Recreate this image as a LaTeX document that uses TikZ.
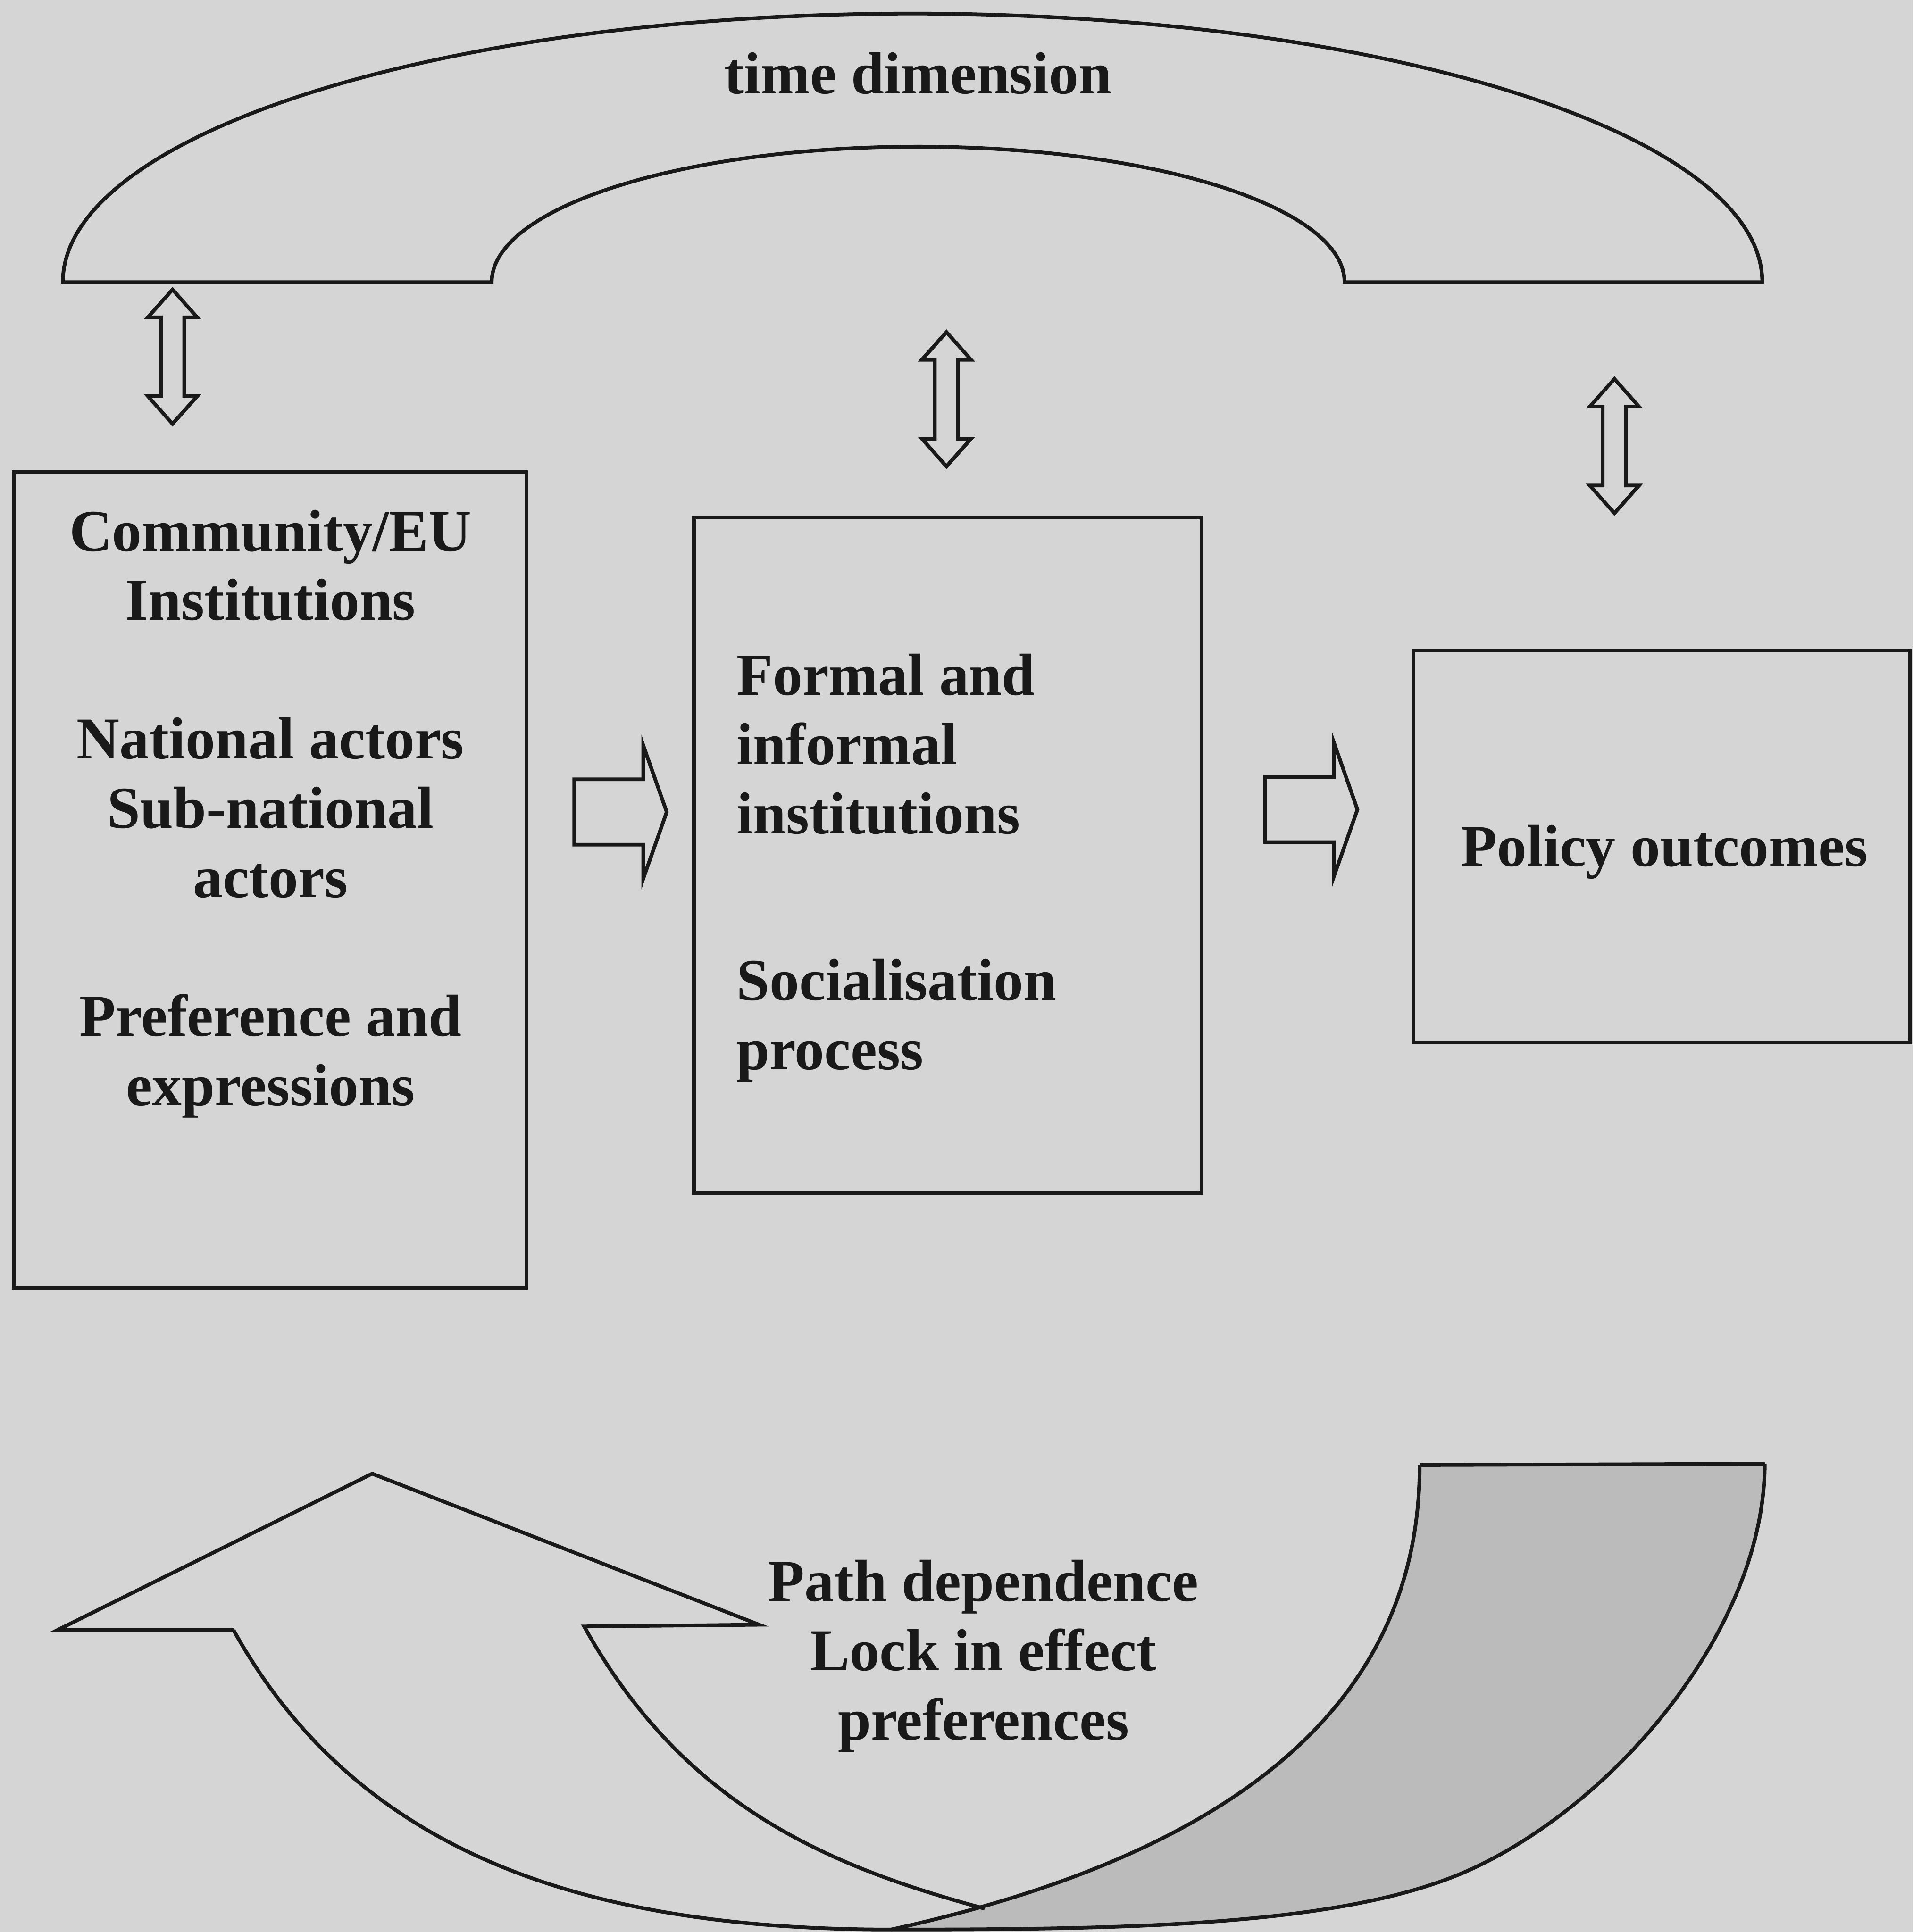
\documentclass[tikz,border=0pt]{standalone}
\usepackage{fontspec}
\setmainfont{Liberation Serif}
\definecolor{bg}{RGB}{213,213,213}
\definecolor{band}{RGB}{187,187,187}
\definecolor{ink}{RGB}{25,25,25}
\begin{document}
\begin{tikzpicture}[x=0.1mm,y=-0.1mm,
  outline/.style={draw=ink,line width=0.85pt,line join=miter},
  box/.style={outline,rectangle,inner sep=0pt},
  lbl/.style={font=\fontsize{13.7}{16}\selectfont\bfseries,text=ink,inner sep=0pt},
  dblarrow/.pic={\draw[outline] (0,-54.5) -- (20,-32) -- (9.5,-32) -- (9.5,32) -- (20,32) -- (0,54.5) -- (-20,32) -- (-9.5,32) -- (-9.5,-32) -- (-20,-32) -- cycle;},
  rarrow/.pic={\draw[outline] (0,-26.5) -- (56,-26.5) -- (56,-54) -- (75,0) -- (56,54) -- (56,26.5) -- (0,26.5) -- cycle;}
]
\fill[bg] (0,0) rectangle (1552,1568);
\useasboundingbox (0,0) rectangle (1552,1568);

% time dimension arch
\draw[outline] (51,229) arc[start angle=180,end angle=360,x radius=689.5,y radius=218]
  -- (1091,229) arc[start angle=0,end angle=-180,x radius=346,y radius=110] -- cycle;
\node[lbl,anchor=base] (timelbl) at (745,76) {time dimension};

% double arrows
\pic at (140,289.5) {dblarrow};
\pic at (768,324) {dblarrow};
\pic at (1310,362) {dblarrow};

% boxes
\node[box,minimum width=41.6mm,minimum height=66.2mm] (box1) at (219,714) {};
\node[box,minimum width=41.2mm,minimum height=54.8mm] (box2) at (769,694) {};
\node[box,minimum width=40.3mm,minimum height=31.8mm] (box3) at (1348.5,687) {};

% (multi-line nodes: base = baseline of the last line)
\node[lbl,anchor=base,align=center] (t1) at (219.5,897) {Community/EU\\Institutions\\[16pt]National actors\\Sub-national\\actors\\[16pt]Preference and\\expressions};
\node[lbl,anchor=base west,align=left] (t2) at (597,868) {Formal and\\informal\\institutions\\[22.5pt]Socialisation\\process};
\node[lbl,anchor=base] (t3) at (1350.5,703) {Policy outcomes};

% right arrows
\pic at (466,659) {rarrow};
\pic at (1026.5,657) {rarrow};

% bottom curved arrow
\coordinate (E) at (1152,1189);
\coordinate (C) at (1432,1188);
\coordinate (F) at (723,1566);
\coordinate (D) at (1196,1516);
\coordinate (A) at (189.5,1323);
\coordinate (H) at (474,1320);
\coordinate (X) at (799,1549);
% shaded back band
\fill[band] (E) .. controls (1152,1369) and (1023,1500) .. (F)
  .. controls (923,1566) and (1096,1562.8) .. (D)
  .. controls (1316,1459.8) and (1432,1318) .. (C) -- cycle;
\draw[outline] (E) -- (C);
\draw[outline] (E) .. controls (1152,1369) and (1023,1500) .. (F);
\draw[outline] (F) .. controls (923,1566) and (1096,1562.8) .. (D)
  .. controls (1316,1459.8) and (1432,1318) .. (C);
% front arrow
\draw[outline] (A) .. controls (289.5,1503) and (473,1566) .. (F);
\draw[outline] (A) -- (46.5,1323) -- (302,1196) -- (616,1318.6) -- (H)
  .. controls (554,1464) and (669,1513.9) .. (X);
\node[lbl,anchor=base,align=center] (pathlbl) at (798,1412) {Path dependence\\Lock in effect\\preferences};
\end{tikzpicture}
\end{document}
